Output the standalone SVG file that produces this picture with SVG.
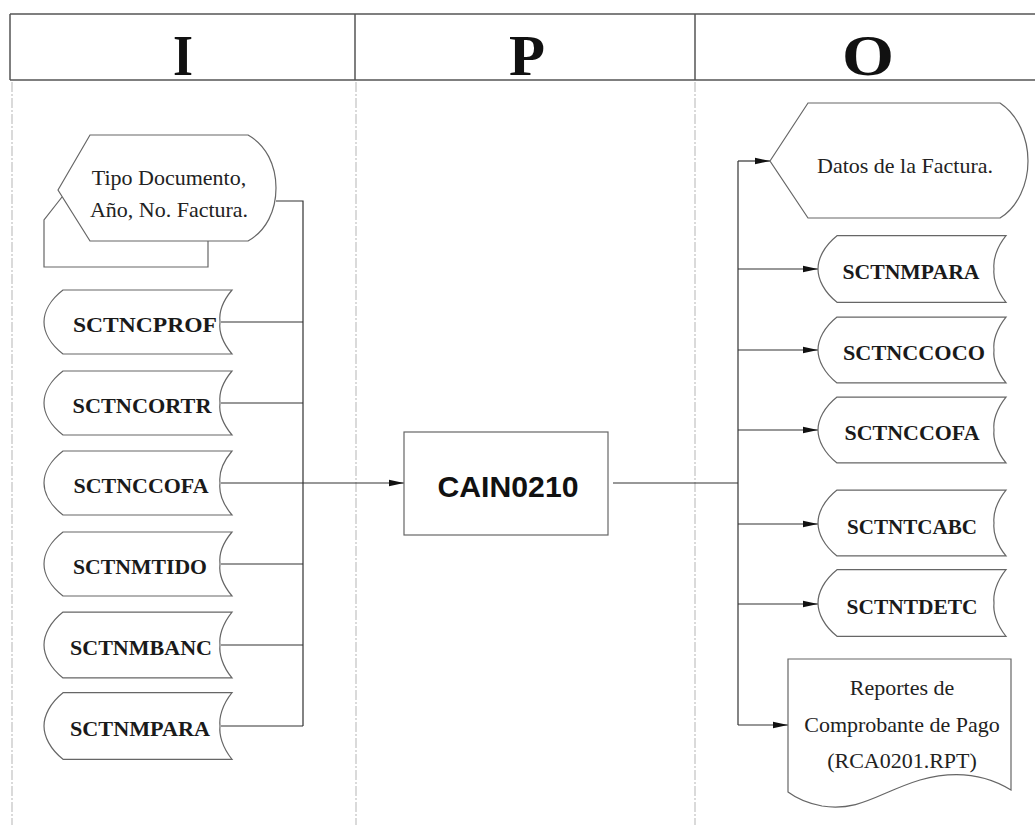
<svg xmlns="http://www.w3.org/2000/svg" width="1035" height="825" viewBox="0 0 1035 825">
<style>
.bg{fill:#fff}
.hdr{fill:none;stroke:#555;stroke-width:1.5}
.col{stroke:#b5b5b5;stroke-width:1;stroke-dasharray:10 2 2 2}
.letter{font-family:"Liberation Serif","Times New Roman",serif;font-weight:bold;font-size:58px;fill:#111;text-anchor:middle}
.shape{fill:#fff;stroke:#666;stroke-width:1.2}
.conn{fill:none;stroke:#333;stroke-width:1.2}
.lbl{font-family:"Liberation Serif","Times New Roman",serif;font-size:22px;fill:#222;text-anchor:middle}
.st{font-family:"Liberation Serif","Times New Roman",serif;font-weight:bold;font-size:22px;fill:#1a1a1a;text-anchor:middle}
.proc{font-family:"Liberation Sans",Arial,sans-serif;font-weight:bold;font-size:30px;fill:#111;text-anchor:middle}
</style>
<defs>
<marker id="arr" markerUnits="userSpaceOnUse" markerWidth="16" markerHeight="8" refX="15" refY="4" orient="auto">
<path d="M0,0.8 L15,4 L0,7.2 Z" fill="#111"/>
</marker>
<path id="stor" d="M19,-32 H188 C178,-20 175,-8 176,0 C175,8 178,20 188,32 H19 C6,22 0,10 0,0 C0,-10 6,-22 19,-32 Z"/>
</defs>
<rect class="bg" x="0" y="0" width="1035" height="825"/>

<g id="header">
<path class="hdr" d="M10,14 H1035 M10,80 H1035 M10,14 V80 M355,14 V80 M695,14 V80"/>
<text class="letter" x="183" y="75" textLength="20" lengthAdjust="spacingAndGlyphs">I</text>
<text class="letter" x="527" y="75" textLength="36" lengthAdjust="spacingAndGlyphs">P</text>
<text class="letter" x="868" y="75" textLength="52" lengthAdjust="spacingAndGlyphs">O</text>
</g>
<g id="lanes">
<line class="col" x1="12" y1="82" x2="12" y2="825"/>
<line class="col" x1="356" y1="82" x2="356" y2="825"/>
<line class="col" x1="695" y1="82" x2="695" y2="825"/>
</g>

<g id="connectors">
<path class="conn" d="M276,201 H303 V726"/>
<path class="conn" d="M221,322 H303"/>
<path class="conn" d="M221,403 H303"/>
<path class="conn" d="M221,564 H303"/>
<path class="conn" d="M221,645 H303"/>
<path class="conn" d="M221,726 H303"/>
<path class="conn" d="M221,483 H404" marker-end="url(#arr)"/>
<path class="conn" d="M613,483 H738"/>
<path class="conn" d="M738,161 V725"/>
<path class="conn" d="M738,161 H770" marker-end="url(#arr)"/>
<path class="conn" d="M738,269 H818" marker-end="url(#arr)"/>
<path class="conn" d="M738,350 H818" marker-end="url(#arr)"/>
<path class="conn" d="M738,430 H818" marker-end="url(#arr)"/>
<path class="conn" d="M738,524 H818" marker-end="url(#arr)"/>
<path class="conn" d="M738,604 H818" marker-end="url(#arr)"/>
<path class="conn" d="M738,725 H788" marker-end="url(#arr)"/>
</g>

<g id="in-display">
<path class="shape" d="M208,241 V267 H44 V220 L62,197"/>
<path class="shape" d="M58,190 L90,135 H248 C266,145 276,165 276,188 C276,211 266,231 248,241 H90 Z"/>
<text class="lbl" x="169" y="185">Tipo Documento,</text>
<text class="lbl" x="169" y="217">Año, No. Factura.</text>
</g>

<g id="in-sctncprof">
<use href="#stor" class="shape" transform="translate(44,322)"/>
<text class="st" x="145" y="332" textLength="144" lengthAdjust="spacingAndGlyphs">SCTNCPROF</text>
</g>
<g id="in-sctncortr">
<use href="#stor" class="shape" transform="translate(44,403)"/>
<text class="st" x="142" y="413" textLength="139" lengthAdjust="spacingAndGlyphs">SCTNCORTR</text>
</g>
<g id="in-sctnccofa">
<use href="#stor" class="shape" transform="translate(44,483)"/>
<text class="st" x="141" y="493" textLength="135" lengthAdjust="spacingAndGlyphs">SCTNCCOFA</text>
</g>
<g id="in-sctnmtido">
<use href="#stor" class="shape" transform="translate(44,564)"/>
<text class="st" x="140" y="574" textLength="134" lengthAdjust="spacingAndGlyphs">SCTNMTIDO</text>
</g>
<g id="in-sctnmbanc">
<use href="#stor" class="shape" transform="translate(44,645) scale(1,1.03)"/>
<text class="st" x="141" y="655" textLength="142" lengthAdjust="spacingAndGlyphs">SCTNMBANC</text>
</g>
<g id="in-sctnmpara">
<use href="#stor" class="shape" transform="translate(44,726) scale(1,1.04)"/>
<text class="st" x="140" y="736" textLength="140" lengthAdjust="spacingAndGlyphs">SCTNMPARA</text>
</g>

<g id="process">
<rect class="shape" x="404" y="432" width="204" height="103"/>
<text class="proc" x="508" y="497" textLength="141" lengthAdjust="spacingAndGlyphs">CAIN0210</text>
</g>

<g id="out-datos">
<path class="shape" d="M770,161 L808,103 H1000 C1018,115 1028,138 1028,161 C1028,184 1018,207 1000,218 H808 Z"/>
<text class="lbl" x="905" y="173">Datos de la Factura.</text>
</g>
<g id="out-sctnmpara">
<use href="#stor" class="shape" transform="translate(818,269) scale(1,1.04)"/>
<text class="st" x="911" y="279" textLength="137" lengthAdjust="spacingAndGlyphs">SCTNMPARA</text>
</g>
<g id="out-sctnccoco">
<use href="#stor" class="shape" transform="translate(818,350) scale(1,1.03)"/>
<text class="st" x="914" y="360" textLength="142" lengthAdjust="spacingAndGlyphs">SCTNCCOCO</text>
</g>
<g id="out-sctnccofa">
<use href="#stor" class="shape" transform="translate(818,430) scale(1,1.03)"/>
<text class="st" x="912" y="440" textLength="135" lengthAdjust="spacingAndGlyphs">SCTNCCOFA</text>
</g>
<g id="out-sctntcabc">
<use href="#stor" class="shape" transform="translate(818,523) scale(1,1.03)"/>
<text class="st" x="912" y="534" textLength="130" lengthAdjust="spacingAndGlyphs">SCTNTCABC</text>
</g>
<g id="out-sctntdetc">
<use href="#stor" class="shape" transform="translate(818,603) scale(1,1.04)"/>
<text class="st" x="912" y="614" textLength="131" lengthAdjust="spacingAndGlyphs">SCTNTDETC</text>
</g>
<g id="out-reportes">
<path class="shape" d="M788,659 H1011 V790 C985,774 955,770 920,780 C880,792 860,812 822,806 C806,803 796,798 788,792 Z"/>
<text class="lbl" x="902" y="695">Reportes de</text>
<text class="lbl" x="902" y="732">Comprobante de Pago</text>
<text class="lbl" x="902" y="768">(RCA0201.RPT)</text>
</g>
</svg>
